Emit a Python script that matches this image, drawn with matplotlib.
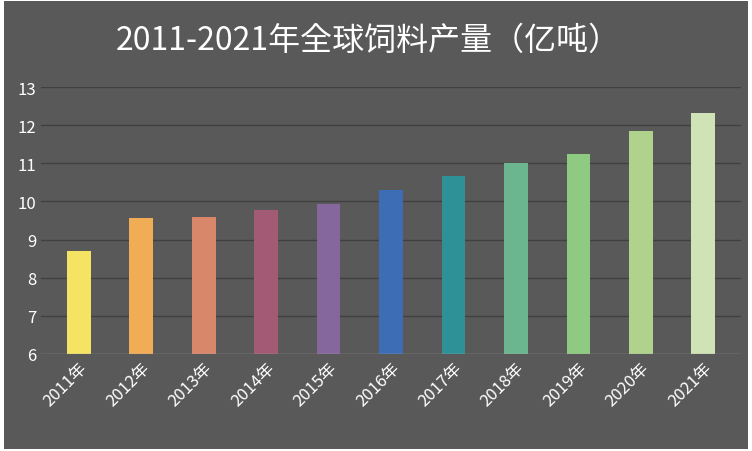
import matplotlib.pyplot as plt
from matplotlib import font_manager

cjk = sorted({f.name for f in font_manager.fontManager.ttflist if 'Sans CJK' in f.name})
plt.rcParams['font.family'] = ['Noto Sans CJK SC'] + cjk + ['DejaVu Sans']

years = ['2011年', '2012年', '2013年', '2014年', '2015年', '2016年',
         '2017年', '2018年', '2019年', '2020年', '2021年']
output = [8.70, 9.57, 9.59, 9.78, 9.93, 10.30, 10.67, 11.02, 11.25, 11.85, 12.32]
colors = ['#f5e463', '#f0ad55', '#d9876a', '#a35a74', '#85679e', '#3d6db4',
          '#2e9198', '#6bb58f', '#8fca82', '#afd38c', '#d0e3b6']

fig = plt.figure(figsize=(7.52, 4.52), dpi=100)
fig.patch.set_facecolor('white')
ax = fig.add_axes([0.055, 0.215, 0.93, 0.59])
bg = fig.add_axes([0.005, 0.005, 0.99, 0.99], zorder=-1)
bg.set_facecolor('#595959')
bg.set_xticks([]); bg.set_yticks([])
for s in bg.spines.values():
    s.set_visible(False)

ax.set_facecolor('none')
ax.bar(range(len(years)), output, width=0.38, color=colors, zorder=3)
ax.set_ylim(6, 13)
ax.set_xlim(-0.6, len(years) - 0.4)
ax.set_yticks(range(6, 14))
ax.grid(axis='y', color='#404040', linewidth=1, zorder=0)
ax.set_xticks(range(len(years)))
ax.set_xticklabels(years, rotation=45, ha='right', rotation_mode='anchor')
ax.tick_params(colors='white', labelsize=12, length=0)
for s in ax.spines.values():
    s.set_visible(False)
ax.axhline(6, color='#a6a6a6', linewidth=1, zorder=4)

fig.text(0.49, 0.91, '2011-2021年全球饲料产量（亿吨）', color='white', fontsize=23,
         ha='center', va='center')

fig.savefig('out.png', facecolor=fig.get_facecolor())
